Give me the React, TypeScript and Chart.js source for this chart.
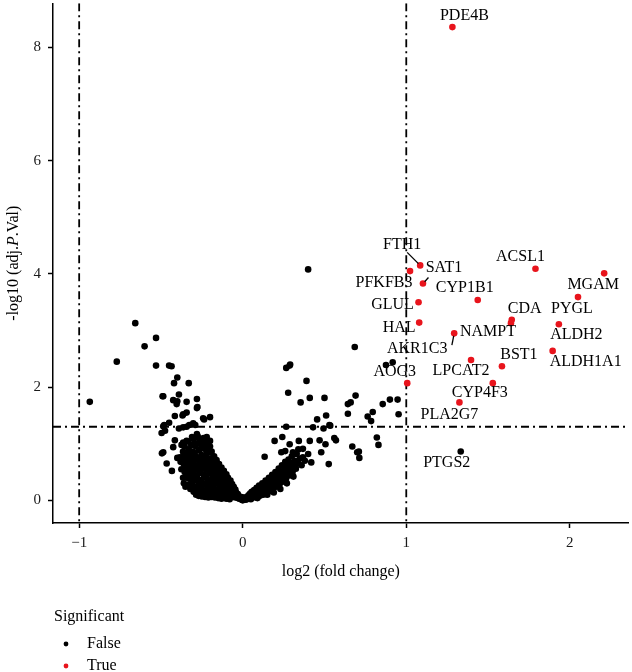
import { useEffect, useRef } from 'react';
import { Chart, registerables } from 'chart.js';

Chart.register(...registerables);

// ---------- data ----------
const xTicks = [-1, 0, 1, 2];
const yTicks = [0, 2, 4, 6, 8];
const foldChangeCutoffs = [-1, 1];
const pValueCutoff = 1.3;
const legendTitle = 'Significant';
const legendLabels = ['False', 'True'];

const labelledGenes = ['PDE4B', 'FTH1', 'SAT1', 'PFKFB3', 'GLUL', 'HAL', 'CYP1B1', 'ACSL1', 'MGAM', 'PYGL', 'CDA', 'NAMPT', 'AKR1C3', 'ALDH2', 'ALDH1A1', 'BST1', 'LPCAT2', 'AOG3', 'CYP4F3', 'PLA2G7', 'PTGS2'];
const labelledLog2FC = [1.282, 1.085, 1.102, 1.023, 1.075, 1.079, 1.437, 1.79, 2.21, 2.05, 1.645, 1.64, 1.293, 1.933, 1.895, 1.585, 1.396, 1.006, 1.529, 1.325, 1.333];
const labelledNegLogP = [8.36, 4.15, 3.83, 4.05, 3.5, 3.14, 3.54, 4.09, 4.01, 3.59, 3.19, 3.13, 2.95, 3.11, 2.64, 2.37, 2.48, 2.07, 2.07, 1.73, 0.864];
const labelledSignificant = [true, true, true, true, true, true, true, true, true, true, true, true, true, true, true, true, true, true, true, true, false];

// other (unlabelled, not significant) genes: [log2FC, -log10 adj.P]
const otherGenes: [number, number][] = [
  [-0.935, 1.74], [-0.77, 2.45], [-0.657, 3.13], [-0.6, 2.72], [-0.53, 2.87], [-0.53, 2.38], [-0.45, 2.38], [-0.435, 2.37],
  [-0.4, 2.17], [-0.42, 2.07], [-0.33, 2.07], [-0.49, 1.84], [-0.425, 1.77], [-0.4, 1.75], [-0.343, 1.74], [-0.28, 1.79],
  [-0.28, 1.63], [-0.343, 1.55], [-0.368, 1.5], [-0.415, 1.49], [-0.236, 1.43], [-0.2, 1.47], [-0.45, 1.37], [-0.48, 1.33],
  [-0.496, 1.19], [-0.39, 1.27], [-0.343, 1.3], [-0.29, 1.33], [-0.415, 1.06], [-0.374, 0.98], [-0.343, 1.05], [-0.494, 0.83],
  [-0.465, 0.65], [-0.433, 0.52], [-0.4, 0.75], [-0.343, 0.26], [-0.28, 0.18], [-0.486, 1.84], [-0.39, 1.87], [-0.404, 1.7],
  [-0.364, 1.52], [-0.242, 1.45], [-0.475, 1.23], [-0.486, 1.31], [-0.364, 1.29], [-0.327, 1.33], [-0.303, 1.36], [-0.364, 1.02],
  [-0.425, 0.94], [-0.486, 0.85], [-0.384, 0.76], [-0.272, 0.18], [-0.277, 1.65],
  // left arm
  [-0.01, 0.02], [-0.015, 0.05], [-0.02, 0.03], [-0.025, 0.08], [-0.03, 0.04], [-0.03, 0.11], [-0.035, 0.07], [-0.04, 0.14],
  [-0.045, 0.05], [-0.045, 0.19], [-0.05, 0.1], [-0.055, 0.24], [-0.06, 0.06], [-0.06, 0.16], [-0.065, 0.29], [-0.07, 0.12],
  [-0.07, 0.21], [-0.075, 0.35], [-0.08, 0.08], [-0.08, 0.27], [-0.085, 0.17], [-0.09, 0.4], [-0.09, 0.31], [-0.095, 0.12],
  [-0.1, 0.22], [-0.1, 0.46], [-0.105, 0.36], [-0.11, 0.09], [-0.11, 0.28], [-0.115, 0.52], [-0.12, 0.16], [-0.12, 0.41],
  [-0.125, 0.33], [-0.13, 0.58], [-0.13, 0.23], [-0.135, 0.47], [-0.14, 0.12], [-0.14, 0.37], [-0.145, 0.64], [-0.15, 0.29],
  [-0.15, 0.53], [-0.155, 0.19], [-0.16, 0.44], [-0.16, 0.71], [-0.165, 0.6], [-0.17, 0.14], [-0.17, 0.34], [-0.175, 0.5],
  [-0.175, 0.78], [-0.18, 0.25], [-0.18, 0.66], [-0.185, 0.41], [-0.19, 0.86], [-0.19, 0.57], [-0.195, 0.18], [-0.2, 0.32],
  [-0.2, 0.73], [-0.2, 0.95], [-0.205, 0.48], [-0.21, 0.63], [-0.21, 0.23], [-0.215, 1.02], [-0.22, 0.82], [-0.22, 0.39],
  [-0.225, 0.55], [-0.23, 0.7], [-0.23, 0.29], [-0.235, 0.91], [-0.24, 1.1], [-0.24, 0.46], [-0.245, 0.62], [-0.25, 0.2],
  [-0.25, 0.8], [-0.255, 0.36], [-0.26, 1.0], [-0.26, 0.54], [-0.265, 0.7], [-0.27, 0.88], [-0.27, 0.27], [-0.275, 1.13],
  [-0.28, 0.44], [-0.28, 0.62], [-0.285, 0.78], [-0.29, 0.96], [-0.29, 0.35], [-0.295, 0.53], [-0.3, 1.08], [-0.3, 0.7],
  [-0.305, 0.86], [-0.31, 0.45], [-0.31, 0.6], [-0.315, 0.98], [-0.32, 0.76], [-0.325, 0.52], [-0.33, 0.9], [-0.33, 0.66],
  [-0.335, 1.04], [-0.34, 0.58], [-0.345, 0.82], [-0.35, 0.72], [-0.355, 0.95], [-0.36, 0.64], [-0.365, 0.86], [-0.37, 0.76],
  [-0.36, 0.3], [-0.35, 0.24], [-0.345, 0.4], [-0.34, 0.5], [-0.33, 0.28], [-0.325, 0.38], [-0.32, 0.2], [-0.31, 0.3],
  [-0.3, 0.15], [-0.295, 0.24], [-0.285, 0.1], [-0.28, 0.19], [-0.27, 0.08], [-0.26, 0.14], [-0.25, 0.07], [-0.24, 0.12],
  [-0.23, 0.06], [-0.22, 0.1], [-0.21, 0.05], [-0.2, 0.12], [-0.19, 0.06], [-0.18, 0.1], [-0.17, 0.05], [-0.16, 0.08],
  [-0.15, 0.04], [-0.14, 0.06], [-0.13, 0.03], [-0.12, 0.05], [-0.1, 0.03], [-0.08, 0.02],
  [-0.105, 0.15], [-0.115, 0.26], [-0.125, 0.45], [-0.135, 0.2], [-0.145, 0.4], [-0.155, 0.58], [-0.165, 0.3], [-0.165, 0.48],
  [-0.175, 0.2], [-0.175, 0.65], [-0.185, 0.3], [-0.185, 0.75], [-0.195, 0.5], [-0.195, 0.66], [-0.205, 0.85], [-0.205, 0.15],
  [-0.215, 0.35], [-0.215, 0.72], [-0.225, 0.92], [-0.225, 0.18], [-0.235, 0.42], [-0.235, 0.6], [-0.245, 0.78], [-0.245, 0.98],
  [-0.255, 0.28], [-0.255, 0.68], [-0.265, 0.9], [-0.265, 0.48], [-0.275, 0.36], [-0.275, 0.72], [-0.285, 0.58], [-0.285, 1.0],
  [-0.295, 0.82], [-0.295, 0.42], [-0.305, 0.38], [-0.305, 0.65], [-0.315, 0.55], [-0.315, 0.85], [-0.325, 0.68], [-0.335, 0.45],
  [-0.335, 0.78], [-0.345, 0.66], [-0.355, 0.5], [-0.355, 0.82], [-0.365, 0.4], [-0.375, 0.55], [-0.38, 0.68], [-0.25, 1.05],
  [-0.265, 1.08], [-0.23, 1.0], [-0.22, 1.12], [-0.31, 1.12], [-0.28, 1.17], [-0.21, 0.9], [-0.2, 1.05],
  // centre
  [0, 0.0], [0.005, 0.01], [-0.005, 0.01], [0, 0.03], [0.008, 0.05], [-0.008, 0.06],
  // right arm
  [0.01, 0.02], [0.015, 0.04], [0.02, 0.01], [0.025, 0.06], [0.03, 0.03], [0.035, 0.09], [0.04, 0.05], [0.045, 0.12],
  [0.05, 0.02], [0.05, 0.08], [0.055, 0.15], [0.06, 0.05], [0.065, 0.11], [0.07, 0.18], [0.075, 0.07], [0.08, 0.14],
  [0.085, 0.22], [0.09, 0.04], [0.09, 0.1], [0.095, 0.17], [0.1, 0.26], [0.105, 0.08], [0.11, 0.13], [0.115, 0.21],
  [0.12, 0.3], [0.125, 0.1], [0.13, 0.17], [0.135, 0.25], [0.14, 0.35], [0.145, 0.13], [0.15, 0.21], [0.155, 0.3],
  [0.16, 0.4], [0.165, 0.16], [0.17, 0.25], [0.175, 0.34], [0.18, 0.45], [0.185, 0.2], [0.19, 0.29], [0.195, 0.38],
  [0.2, 0.5], [0.205, 0.24], [0.21, 0.33], [0.215, 0.43], [0.22, 0.56], [0.225, 0.28], [0.23, 0.38], [0.235, 0.48],
  [0.24, 0.62], [0.245, 0.33], [0.25, 0.43], [0.255, 0.54], [0.26, 0.68], [0.265, 0.38], [0.27, 0.48], [0.275, 0.6],
  [0.28, 0.72], [0.285, 0.44], [0.29, 0.55], [0.295, 0.66], [0.3, 0.78], [0.305, 0.5], [0.31, 0.61], [0.32, 0.7],
  [0.325, 0.56], [0.33, 0.82], [0.34, 0.65], [0.35, 0.74],
  [0.06, 0.12], [0.08, 0.05], [0.1, 0.18], [0.12, 0.22], [0.14, 0.24], [0.16, 0.3], [0.18, 0.35], [0.2, 0.4],
  [0.22, 0.45], [0.24, 0.5], [0.26, 0.56], [0.28, 0.6], [0.3, 0.66], [0.32, 0.6], [0.15, 0.1], [0.19, 0.14],
  [0.23, 0.2], [0.27, 0.3], [0.31, 0.42], [0.36, 0.62], [0.38, 0.7], [0.34, 0.9], [0.4, 0.82],
  // right scatter
  [0.4, 4.08], [0.685, 2.71], [0.876, 2.39], [0.917, 2.44], [0.266, 2.34], [0.287, 2.38], [0.39, 2.11], [0.278, 1.9],
  [0.354, 1.73], [0.41, 1.81], [0.5, 1.81], [0.643, 1.7], [0.66, 1.73], [0.69, 1.85], [0.856, 1.7], [0.9, 1.78],
  [0.947, 1.78], [0.455, 1.43], [0.51, 1.5], [0.535, 1.32], [0.494, 1.27], [0.43, 1.29], [0.266, 1.3], [0.56, 1.1],
  [0.643, 1.53], [0.67, 0.95], [0.7, 0.85], [0.526, 0.64], [0.134, 0.77], [0.764, 1.48], [0.795, 1.56], [0.785, 1.4],
  [0.953, 1.52], [0.82, 1.11], [0.83, 0.98], [0.71, 0.86], [0.713, 0.75], [0.242, 1.12], [0.195, 1.05], [0.287, 0.99],
  [0.343, 1.05], [0.41, 1.05], [0.47, 1.06], [0.506, 0.99], [0.57, 1.06], [0.48, 0.85], [0.236, 0.85], [0.26, 0.87],
  [0.307, 0.85], [0.368, 0.91], [0.368, 0.76], [0.419, 0.67], [0.53, 1.33], [0.29, 2.4],
];

// ---------- label placement (pixel offsets from each point) ----------
const labelLayout: Record<string, { dx: number; dy: number; seg?: [number, number] }> = {
  PDE4B: { dx: 12, dy: -11 },
  FTH1: { dx: -18, dy: -21, seg: [-13, -13] },
  SAT1: { dx: 21, dy: -16, seg: [5.5, -6] },
  PFKFB3: { dx: -26, dy: 12 },
  GLUL: { dx: -26, dy: 3 },
  HAL: { dx: -20, dy: 5 },
  CYP1B1: { dx: -13, dy: -12 },
  ACSL1: { dx: -15, dy: -12 },
  MGAM: { dx: -11, dy: 11 },
  PYGL: { dx: -6, dy: 12 },
  CDA: { dx: 13, dy: -11 },
  NAMPT: { dx: -23, dy: 9 },
  AKR1C3: { dx: -37, dy: 15, seg: [-2.3, 11.7] },
  ALDH2: { dx: 17.5, dy: 11 },
  ALDH1A1: { dx: 33, dy: 11 },
  BST1: { dx: 17, dy: -11 },
  LPCAT2: { dx: -10, dy: 11 },
  AOG3: { dx: -12.5, dy: -11 },
  CYP4F3: { dx: -13, dy: 10 },
  PLA2G7: { dx: -10, dy: 12 },
  PTGS2: { dx: -14, dy: 11 },
};

const FONT = '"Liberation Serif", "Times New Roman", serif';
const RED = '#e8141c';

const refLinesPlugin = {
  id: 'refLines',
  beforeDatasetsDraw(chart: any) {
    const { ctx, chartArea: a, scales } = chart;
    ctx.save();
    ctx.beginPath();
    ctx.rect(a.left, a.top, a.right - a.left, a.bottom - a.top);
    ctx.clip();
    ctx.strokeStyle = '#000';
    ctx.lineWidth = 1.8;
    ctx.setLineDash([8, 4, 2, 4]);
    for (const v of foldChangeCutoffs) {
      const px = scales.x.getPixelForValue(v);
      ctx.beginPath();
      ctx.moveTo(px, a.top);
      ctx.lineTo(px, a.bottom);
      ctx.stroke();
    }
    const py = scales.y.getPixelForValue(pValueCutoff);
    ctx.beginPath();
    ctx.moveTo(a.left, py);
    ctx.lineTo(a.right, py);
    ctx.stroke();
    ctx.restore();
  },
};

const labelsPlugin = {
  id: 'geneLabels',
  afterDatasetsDraw(chart: any) {
    const { ctx, scales } = chart;
    ctx.save();
    ctx.fillStyle = '#000';
    ctx.strokeStyle = '#000';
    ctx.lineWidth = 1.3;
    ctx.font = `16px ${FONT}`;
    ctx.textAlign = 'center';
    ctx.textBaseline = 'middle';
    labelledGenes.forEach((g, i) => {
      const px = scales.x.getPixelForValue(labelledLog2FC[i]);
      const py = scales.y.getPixelForValue(labelledNegLogP[i]);
      const l = labelLayout[g] || { dx: 0, dy: -12 };
      if (l.seg) {
        const len = Math.hypot(l.seg[0], l.seg[1]);
        const ux = l.seg[0] / len;
        const uy = l.seg[1] / len;
        ctx.beginPath();
        ctx.moveTo(px + l.seg[0], py + l.seg[1]);
        ctx.lineTo(px + ux * 2.5, py + uy * 2.5);
        ctx.stroke();
      }
      ctx.fillText(g, px + l.dx, py + l.dy);
    });
    ctx.restore();
  },
};

const textPlugin = {
  id: 'texts',
  afterDraw(chart: any) {
    const { ctx, chartArea: a } = chart;
    ctx.save();
    ctx.fillStyle = '#000';
    // y title with italic P
    ctx.translate(14, (a.top + a.bottom) / 2);
    ctx.rotate(-Math.PI / 2);
    ctx.textBaseline = 'middle';
    ctx.textAlign = 'left';
    const parts: [string, boolean][] = [['-log10 (adj.', false], ['P', true], ['.Val)', false]];
    let total = 0;
    for (const [t, it] of parts) {
      ctx.font = `${it ? 'italic ' : ''}16px ${FONT}`;
      total += ctx.measureText(t).width;
    }
    let x = -total / 2;
    for (const [t, it] of parts) {
      ctx.font = `${it ? 'italic ' : ''}16px ${FONT}`;
      ctx.fillText(t, x, 0);
      x += ctx.measureText(t).width;
    }
    ctx.restore();

    ctx.save();
    ctx.fillStyle = '#000';
    ctx.font = `16px ${FONT}`;
    ctx.textBaseline = 'middle';
    ctx.textAlign = 'center';
    ctx.fillText('log2 (fold change)', (a.left + a.right) / 2, 572);
    // legend
    ctx.textAlign = 'left';
    ctx.fillText(legendTitle, 54, 617);
    const colors = ['#000', RED];
    const ys = [644, 666];
    legendLabels.forEach((lab, i) => {
      ctx.fillStyle = colors[i];
      ctx.beginPath();
      ctx.arc(66, ys[i], 2.4, 0, Math.PI * 2);
      ctx.fill();
      ctx.fillStyle = '#000';
      ctx.fillText(lab, 87, ys[i]);
    });
    ctx.restore();
  },
};

export default function App() {
  const ref = useRef<HTMLCanvasElement | null>(null);
  useEffect(() => {
    document.body.style.margin = '0';
    if (!ref.current) return;
    const falsePts = otherGenes.map(([x, y]) => ({ x, y }));
    const truePts: { x: number; y: number }[] = [];
    labelledGenes.forEach((_, i) => {
      const p = { x: labelledLog2FC[i], y: labelledNegLogP[i] };
      if (labelledSignificant[i]) truePts.push(p);
      else falsePts.push(p);
    });
    const axisCommon = {
      border: { display: true, color: '#000', width: 1.5 },
      grid: { display: true, drawOnChartArea: false, drawTicks: true, tickLength: 5, tickWidth: 1.5, tickColor: '#000' },
    };
    const chart = new Chart(ref.current, {
      type: 'scatter',
      data: {
        datasets: [
          { label: legendLabels[0], data: falsePts, backgroundColor: '#000', pointRadius: 3.3, pointBorderWidth: 0, pointHoverRadius: 3.3 },
          { label: legendLabels[1], data: truePts, backgroundColor: RED, pointRadius: 3.3, pointBorderWidth: 0, pointHoverRadius: 3.3 },
        ],
      },
      options: {
        animation: false,
        responsive: false,
        devicePixelRatio: 1,
        layout: { padding: { left: 0, right: 1, top: 0, bottom: 119 } },
        plugins: { legend: { display: false }, tooltip: { enabled: false } },
        scales: {
          x: {
            type: 'linear',
            min: -1.16,
            max: 2.36,
            ...axisCommon,
            ticks: {
              color: '#1a1a1a',
              font: { family: FONT, size: 15 },
              padding: 6,
              callback: (v: any) => (v < 0 ? '\u2212' + Math.abs(v) : String(v)),
            },
            afterBuildTicks: (s: any) => {
              s.ticks = xTicks.map((v) => ({ value: v }));
            },
            afterFit: (s: any) => {
              s.height = 30;
              s.paddingLeft = 0;
              s.paddingRight = 0;
            },
          },
          y: {
            type: 'linear',
            min: -0.4,
            max: 8.78,
            ...axisCommon,
            ticks: {
              color: '#1a1a1a',
              font: { family: FONT, size: 15 },
              padding: 7,
            },
            afterBuildTicks: (s: any) => {
              s.ticks = yTicks.map((v) => ({ value: v }));
            },
            afterFit: (s: any) => {
              s.width = 53;
              s.paddingTop = 0;
              s.paddingBottom = 0;
            },
          },
        },
      },
      plugins: [refLinesPlugin, labelsPlugin, textPlugin],
    } as any);
    return () => chart.destroy();
  }, []);
  return (
    <div style={{ width: 632, height: 672 }}>
      <canvas ref={ref} width={632} height={672} style={{ display: 'block' }} />
    </div>
  );
}
